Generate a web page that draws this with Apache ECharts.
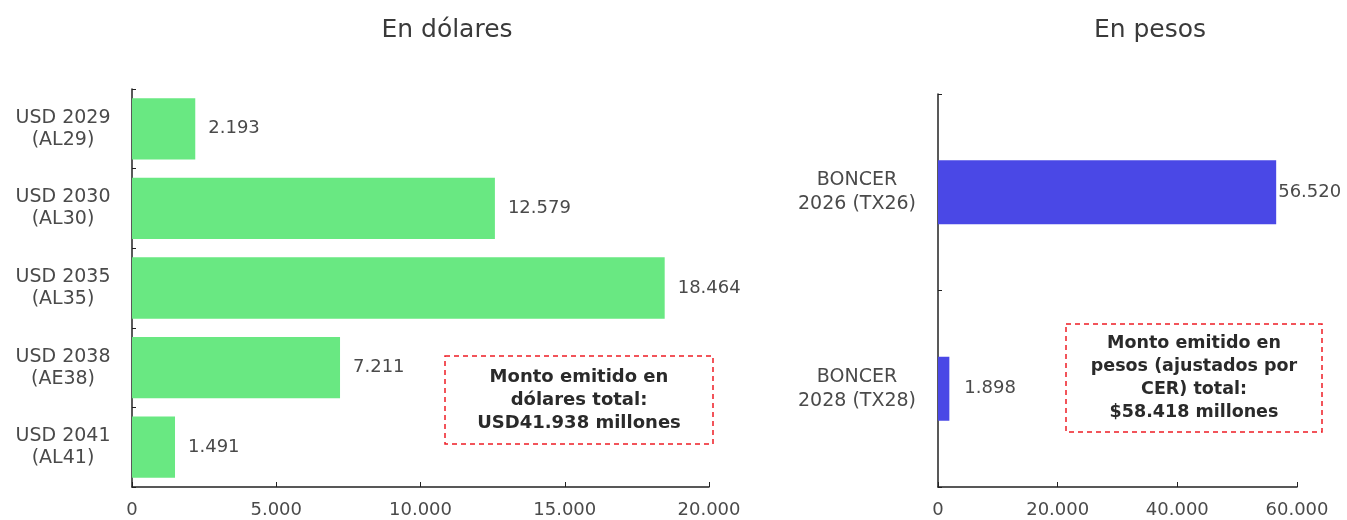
<!DOCTYPE html>
<html><head><meta charset="utf-8">
<script src="https://cdn.jsdelivr.net/npm/echarts@6/dist/echarts.min.js"></script>
<style>html,body{margin:0;padding:0;background:#fff}#c{width:1347px;height:520px}</style>
</head><body><div id="c"></div>
<script>
const usdCategories = ['USD 2029\n(AL29)', 'USD 2030\n(AL30)', 'USD 2035\n(AL35)', 'USD 2038\n(AE38)', 'USD 2041\n(AL41)'];
const usdValues = [2193, 12579, 18464, 7211, 1491];
const pesoCategories = ['BONCER\n2026 (TX26)', 'BONCER\n2028 (TX28)'];
const pesoValues = [56520, 1898];
const titles = ['En dólares', 'En pesos'];
const usdNote = 'Monto emitido en\ndólares total:\nUSD41.938 millones';
const pesoNote = 'Monto emitido en\npesos (ajustados por\nCER) total:\n$58.418 millones';

const FONT = 'DejaVu Sans';
const GRAY = '#4a4a4a';
const fmt = v => String(v).replace(/\B(?=(\d{3})+(?!\d))/g, '.');

const chart = echarts.init(document.getElementById('c'));
const axisLine = {show: true, lineStyle: {color: '#222', width: 1.5}};
const titleStyle = {fontFamily: FONT, fontSize: 25, fontWeight: 'normal', color: '#3a3a3a'};
const pesoLabelDistance = [2, 15];
chart.setOption({
  animation: false,
  title: [
    {text: titles[0], left: 442, top: 13, textAlign: 'center', textStyle: titleStyle},
    {text: titles[1], left: 1145, top: 13, textAlign: 'center', textStyle: titleStyle}
  ],
  grid: [
    {left: 132, right: 638, top: 89, bottom: 33},
    {left: 938, right: 50, top: 94, bottom: 33}
  ],
  xAxis: [
    {type: 'value', gridIndex: 0, min: 0, max: 20000, interval: 5000, axisLine: axisLine,
     axisTick: {show: true, inside: true, length: 5, lineStyle: {color: '#222'}}, splitLine: {show: false},
     axisLabel: {formatter: fmt, fontFamily: FONT, fontSize: 18, color: GRAY, margin: 14}},
    {type: 'value', gridIndex: 1, min: 0, max: 60000, interval: 20000, axisLine: axisLine,
     axisTick: {show: true, inside: true, length: 5, lineStyle: {color: '#222'}}, splitLine: {show: false},
     axisLabel: {formatter: fmt, fontFamily: FONT, fontSize: 18, color: GRAY, margin: 14}}
  ],
  yAxis: [
    {type: 'category', gridIndex: 0, data: usdCategories, inverse: true, axisLine: axisLine,
     axisTick: {show: true, inside: true, length: 4, lineStyle: {color: '#222'}},
     axisLabel: {fontFamily: FONT, fontSize: 19, color: GRAY, margin: 69, align: 'center', lineHeight: 22}},
    {type: 'category', gridIndex: 1, data: pesoCategories, inverse: true, axisLine: axisLine,
     axisTick: {show: true, inside: true, length: 4, lineStyle: {color: '#222'}},
     axisLabel: {fontFamily: FONT, fontSize: 19, color: GRAY, margin: 81, align: 'center', lineHeight: 24}}
  ],
  series: [
    {type: 'bar', xAxisIndex: 0, yAxisIndex: 0, data: usdValues, barCategoryGap: '23%',
     itemStyle: {color: '#69e882'},
     label: {show: true, position: 'right', distance: 13, formatter: p => fmt(p.value), fontFamily: FONT, fontSize: 18, color: GRAY}},
    {type: 'bar', xAxisIndex: 1, yAxisIndex: 1, barWidth: 64,
     data: pesoValues.map((v, i) => ({value: v, label: {distance: pesoLabelDistance[i]}})),
     itemStyle: {color: '#4a48e6'},
     label: {show: true, position: 'right', formatter: p => fmt(p.value), fontFamily: FONT, fontSize: 18, color: GRAY}}
  ],
  graphic: [
    {type: 'rect', shape: {x: 445, y: 356, width: 268, height: 88},
     style: {fill: 'none', stroke: '#ee1c24', lineWidth: 1.5, lineDash: [5, 4]}},
    {type: 'text', x: 579, y: 400, style: {text: usdNote, fontFamily: FONT, fontSize: 18, fontWeight: 'bold', fill: '#2a2a2a',
      textAlign: 'center', textVerticalAlign: 'middle', lineHeight: 23}},
    {type: 'rect', shape: {x: 1066, y: 324, width: 256, height: 108},
     style: {fill: 'none', stroke: '#ee1c24', lineWidth: 1.5, lineDash: [5, 4]}},
    {type: 'text', x: 1194, y: 378, style: {text: pesoNote, fontFamily: FONT, fontSize: 17.5, fontWeight: 'bold', fill: '#2a2a2a',
      textAlign: 'center', textVerticalAlign: 'middle', lineHeight: 23}}
  ]
});
</script></body></html>
